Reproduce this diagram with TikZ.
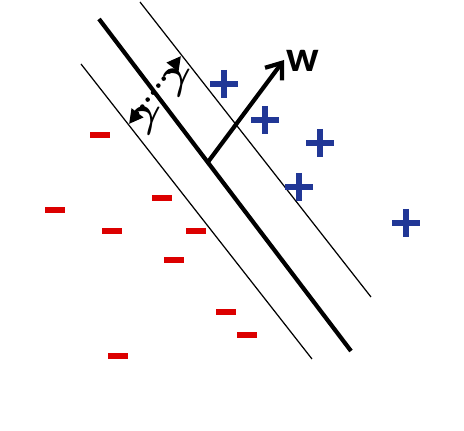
\documentclass[tikz,border=0pt]{standalone}
\usepackage{amssymb}
\usepackage{amsmath}
\usepackage{fontspec}
\usepackage{tikz}
\usetikzlibrary{arrows.meta}
\newfontfamily\labelfont{Carlito}
\definecolor{posblue}{RGB}{33,55,150}
\definecolor{negred}{RGB}{220,0,0}
\tikzset{
  plusmark/.style={minimum size=0.56cm,inner sep=0pt,
    path picture={\draw[posblue,line width=3.8pt]
      (path picture bounding box.west) -- (path picture bounding box.east)
      (path picture bounding box.north) -- (path picture bounding box.south);}},
  minusmark/.style={minimum width=0.4cm,minimum height=0.14cm,inner sep=0pt,
    path picture={\draw[negred,line width=3.4pt]
      (path picture bounding box.west) -- (path picture bounding box.east);}}
}
\begin{document}
\begin{tikzpicture}[x=0.02cm,y=-0.02cm]
\useasboundingbox (0,0) rectangle (464,431);

\coordinate (m1) at (99,19);
\coordinate (m2) at (351,351);
\coordinate (u1) at (140,2);
\coordinate (u2) at (371,297);
\coordinate (l1) at (81,64);
\coordinate (l2) at (312,359);
\coordinate (w0) at (208,162);
\coordinate (w1) at (284,60);
\coordinate (gl) at (129,124);
\coordinate (gu) at (181,56);

\draw[line width=2.4pt] (m1) -- (m2);
\draw[line width=0.7pt] (u1) -- (u2);
\draw[line width=0.7pt] (l1) -- (l2);

\draw[line width=2.4pt,-{Straight Barb[length=8pt,width=12pt,line width=2.4pt]}] (w0) -- (w1);
\node (w) at (303,61) {\Huge\labelfont\bfseries w};

\draw[line width=2.6pt,line cap=round,dash pattern=on 0pt off 5pt,
  {Triangle[length=8pt,width=8pt,line cap=butt]}-{Triangle[length=8pt,width=8pt,line cap=butt]}] (gl) -- (gu);
\node (g1) at (177,83) {\Huge$\boldsymbol{\gamma}$};
\node (g2) at (147,121) {\Huge$\boldsymbol{\gamma}$};

\begin{scope}[every node/.style={plusmark}]
\node (p1) at (224,84) {};
\node (p2) at (265,120) {};
\node (p3) at (320,143) {};
\node (p4) at (299,187) {};
\node (p5) at (406,223) {};
\end{scope}

\begin{scope}[every node/.style={minusmark}]
\node (n1) at (100,135) {};
\node (n2) at (55,210) {};
\node (n3) at (162,198) {};
\node (n4) at (112,231) {};
\node (n5) at (196,231) {};
\node (n6) at (174,260) {};
\node (n7) at (226,312) {};
\node (n8) at (247,335) {};
\node (n9) at (118,356) {};
\end{scope}
\end{tikzpicture}
\end{document}
